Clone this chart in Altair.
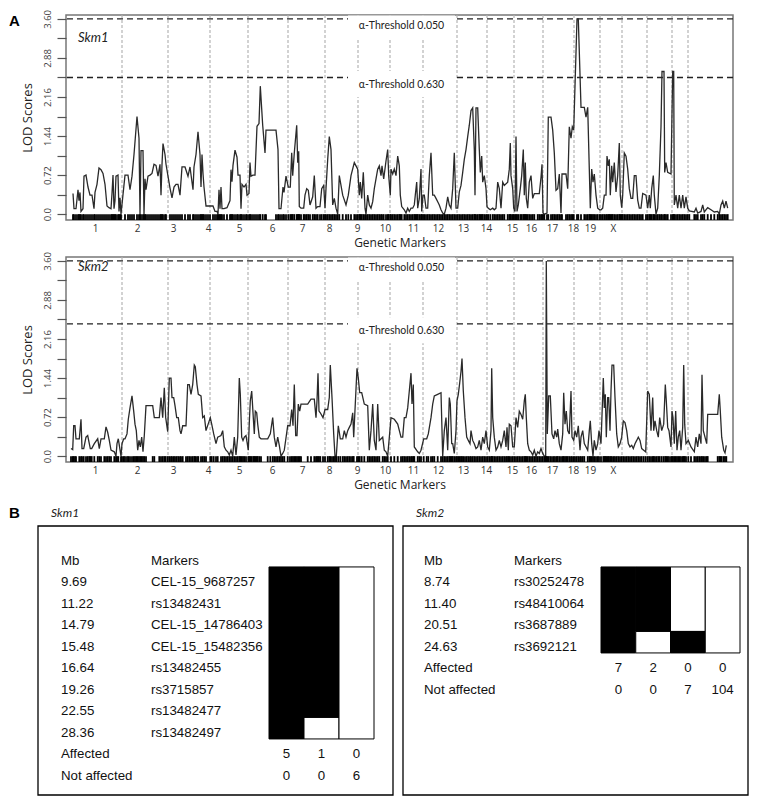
import altair as alt
import pandas as pd

# ---------------- Panel A data ----------------
chrom_labels = ['1', '2', '3', '4', '5', '6', '7', '8', '9', '10', '11', '12', '13',
                '14', '15', '16', '17', '18', '19', 'X']
chrom_label_pos = [29, 71, 107, 142, 173, 206, 236, 263, 291, 319, 347, 372, 397,
                   420, 446, 465, 486, 507, 524, 547]
boundary_pos = [56, 102, 144, 182, 222, 259, 292, 324, 357, 391, 421, 448, 477,
                508, 534, 556, 581, 606, 622]

threshold_names = ['\u03b1-Threshold 0.050', '\u03b1-Threshold 0.630']
skm1_thresholds = [3.60, 2.52]
skm2_thresholds = [3.60, 2.44]

skm1_pos = [
    7, 8, 10, 12, 13, 14, 15, 17, 18, 20, 22, 24, 26, 28, 29, 31, 33, 35, 37, 39, 41, 43, 45, 46, 47, 48, 49, 50, 52, 53, 54, 55,
    59, 62, 64, 66, 68, 71, 73, 74, 75, 77, 78, 79, 80, 82, 84, 86, 88, 90, 92, 94, 95, 96, 97, 99, 100,
    104, 106, 108, 110, 112, 114, 116, 119, 122, 124, 127, 128, 130, 132, 134, 135, 136, 137, 138, 140, 142, 144,
    147, 149, 151, 152, 153, 154, 155, 156, 158, 161, 164, 165, 166, 167, 169, 171, 172, 174, 175, 176, 178, 180, 181,
    183, 184, 185, 187, 189, 191, 193, 194.3, 196.7, 199, 200, 210, 212, 213, 215, 217, 218, 220,
    222.3, 224.3, 225.7, 226.7, 228.3, 230.7, 231.7, 232.7, 233.3, 235, 237.7, 239, 240.7, 242.3, 244, 246.7, 248.3, 250, 251.7, 254, 255.7, 257.7, 259,
    260, 261.7, 263.3, 265, 266.7, 268.3, 270, 271.7, 273.3, 276.7, 280, 282.3, 285, 288.3, 290, 291.7,
    293.3, 294.3, 295.7, 297.3, 299, 300, 301.7, 303.3, 305, 306.7, 308.3, 310, 311.7, 313.3, 315, 316, 317.7, 320, 321.7, 322.7, 324.3,
    325, 326.7, 328.3, 330, 331.7, 333.3, 334.3, 335.7, 338.3, 340, 341.7, 343.3, 345, 346.7, 348.3, 349.3, 350.7, 351.7, 353.3, 355, 355.7, 357,
    358.3, 360, 361.7, 363.3, 365, 366.7, 368.3, 370, 371.7, 373.3, 375, 376.7, 378.3, 380, 381.7, 383.3, 385, 386.7, 388.3, 390,
    391.7, 393.3, 395, 396.7, 398.3, 400, 401.7, 403.3, 405, 406.7, 408.3, 409, 410, 411.7, 413.3, 414.3, 415.7, 416.7, 418.3, 420, 421,
    422.3, 424.3, 426.7, 428.3, 430, 431.7, 433.3, 435, 436.7, 438.3, 441.7, 443.3, 444.3, 445, 446.7, 447.7,
    449, 450, 451, 452.3, 454.3, 455.7, 457.3, 458.3, 459.3, 460.3, 461.7, 463.3, 465, 466.7, 468.3, 471.7, 473.3, 475, 476, 477,
    478.3, 481, 482.3, 485, 486.7, 488.3, 490, 491.7, 493.3, 495, 496, 500, 501.7, 503.3, 505, 506.3, 507.7,
    511, 512.3, 515, 518.3, 520, 521.7, 523.3, 524.3, 525.7, 527, 528.3, 530, 531.7, 533.7,
    535, 536.7, 538.3, 540, 541, 542.3, 543.3, 544.3, 545.7, 546.7, 548.3, 550, 551.7, 553.3, 554.3, 555.7,
    556.7, 558.3, 560, 561.7, 563.3, 565, 566.7, 568.3, 570, 571.7, 573.3, 575, 576.7, 580,
    581.7, 583.3, 584.3, 585.7, 587.3, 588.3, 590, 591.7, 593.3, 595, 596, 598, 598.7, 600, 601.7, 605,
    606.7, 607.7, 608.3, 610, 611.7, 613.3, 615, 616.7, 618.3, 620, 621.7,
    623.3, 628.3, 630, 631.7, 635, 636.7, 638.3, 641.7, 645, 648.3, 651.7, 653.3, 655, 656.7, 658.3, 660, 661.7,
]
skm1_lod = [
    0.38, 0.10, 0.10, 0.45, 0.25, 0.40, 0.05, 0.10, 0.70, 0.72, 0.50, 0.35, 0.35, 0.10, 0.40, 0.55, 0.85, 0.82, 0.75, 0.55, 0.15, 0.12, 0.10, 0.38, 0.72, 0.10, 0.25, 0.70, 0.72, 0.05, 0.30, 0.00,
    0.72, 0.72, 0.45, 0.70, 1.10, 1.80, 1.40, 0.00, 1.17, 1.17, 0.00, 0.65, 0.45, 0.70, 0.72, 0.75, 0.92, 0.90, 0.70, 0.92, 0.35, 0.92, 1.30, 1.10, 0.92,
    0.48, 0.30, 0.50, 0.55, 0.55, 0.35, 0.87, 0.87, 0.70, 0.87, 0.45, 0.87, 1.10, 1.52, 1.10, 0.50, 1.10, 0.75, 0.50, 0.15, 0.15, 0.15,
    0.15, 0.05, 0.05, 0.00, 0.45, 0.10, 0.50, 0.10, 0.10, 0.12, 0.25, 0.82, 0.60, 0.90, 1.18, 1.05, 0.72, 0.72, 0.10, 0.55, 0.50, 0.55, 0.35,
    0.38, 0.95, 0.70, 0.72, 0.72, 1.62, 1.67, 2.36, 1.64, 1.13, 1.55, 1.55, 1.19, 0.10, 0.10, 0.50, 0.40, 0.70,
    0.50, 0.50, 1.13, 0.71, 1.13, 1.64, 0.95, 1.16, 0.14, 0.11, 0.11, 0.35, 0.47, 0.44, 0.17, 0.32, 0.71, 0.11, 0.14, 0.14, 0.47, 0.53, 0.11,
    0.47, 1.01, 1.43, 1.19, 0.17, 0.29, 0.11, 0.00, 0.71, 0.35, 0.17, 0.35, 0.71, 0.95, 0.89, 0.83,
    0.35, 0.59, 0.29, 0.77, 0.11, 0.00, 0.35, 0.17, 0.11, 0.23, 0.47, 0.65, 0.83, 0.89, 0.71, 0.89, 0.65, 0.98, 1.19, 0.71, 0.35,
    0.83, 0.74, 0.83, 0.71, 1.07, 0.89, 0.35, 0.14, 0.08, 0.02, 0.11, 0.05, 0.11, 0.11, 0.17, 0.35, 0.59, 0.11, 0.29, 0.83, 0.05, 0.35,
    0.35, 0.11, 0.11, 0.71, 1.13, 0.35, 0.35, 0.29, 0.23, 0.17, 0.08, 0.02, 0.00, 0.11, 0.32, 0.17, 0.11, 0.47, 1.13, 0.11,
    0.11, 0.41, 0.53, 0.77, 1.01, 1.19, 1.43, 1.64, 1.91, 1.96, 1.19, 0.35, 1.96, 1.96, 1.19, 0.77, 1.07, 0.59, 0.71, 0.47, 0.14,
    0.11, 0.08, 0.11, 0.08, 0.11, 0.59, 0.47, 0.11, 0.59, 0.53, 0.59, 0.83, 1.31, 0.71, 0.47, 0.11,
    0.05, 1.43, 0.05, 0.17, 0.47, 0.71, 1.19, 0.35, 0.95, 0.29, 0.11, 0.59, 0.71, 0.29, 0.38, 0.38, 0.38, 0.68, 0.92, 0.02,
    0.00, 0.02, 1.79, 1.79, 1.55, 1.13, 0.44, 0.47, 0.74, 0.02, 0.74, 0.74, 0.47, 1.61, 1.40, 1.61, 1.55,
    3.60, 3.60, 1.97, 1.97, 1.79, 1.97, 0.83, 0.11, 0.83, 0.59, 0.74, 0.35, 0.11, 0.08,
    0.08, 0.11, 0.35, 0.35, 1.07, 0.89, 1.01, 0.35, 0.89, 0.59, 0.95, 0.41, 0.71, 1.31, 0.35, 0.12,
    0.35, 1.13, 1.07, 0.83, 0.47, 0.29, 0.29, 0.71, 0.71, 0.26, 0.11, 0.11, 0.38, 0.35,
    0.11, 0.35, 0.11, 0.47, 0.71, 0.35, 0.00, 0.11, 0.71, 1.61, 2.63, 2.63, 0.77, 0.95, 0.77, 0.74,
    2.63, 2.63, 0.17, 0.35, 0.11, 0.35, 0.11, 0.35, 0.11, 0.32, 0.11,
    0.06, 0.04, 0.11, 0.02, 0.05, 0.17, 0.04, 0.12, 0.08, 0.04, 0.05, 0.00, 0.17, 0.24, 0.11, 0.24, 0.11,
]

skm2_pos = [
    5, 6.7, 7.7, 9, 10, 13.3, 15, 16, 17.7, 20, 21.7, 23.3, 24.3, 25.7, 28.3, 31.7, 33.3, 35, 38.3, 40, 41.7, 43.3, 45, 48.3, 50, 51, 52.3,
    55, 56, 57.7, 59, 61, 62.3, 64, 66, 67.7, 69, 70.3, 71.7, 73, 74.3, 75.7, 77, 78.3, 80, 86.7, 88.3, 93.3, 95, 96.7, 98.3, 99.7,
    101.7, 103.3, 105, 106, 107.7, 109, 110.7, 112.3, 114, 115, 116.7, 120, 121.7, 123.3, 125, 126.7, 128.3, 129.3, 131, 132.3, 135, 136.7, 138.3, 140,
    144.3, 145.7, 147.7, 150, 151.7, 155, 156.7, 158.3, 160, 161.7, 163.3, 165, 166.7, 168.3, 170, 171.7, 173.3, 174.3, 175.7, 177, 178.3, 180,
    182.3, 183.3, 184.3, 185.7, 187.3, 188.3, 189.3, 190.7, 191.7, 193.3, 195, 201.7, 204.3, 206.7, 208.3, 210, 211.7, 213.3, 215, 216.7, 218.3,
    221.7, 224, 225.7, 227, 228.3, 229.7, 231, 232.3, 233.7, 235, 241.7, 245, 248.3, 250, 251, 252, 253, 254.3, 257,
    259, 261.7, 263.3, 264.3, 266, 267.7, 269, 270.3, 272.3, 274.3, 276.7, 278.3, 280, 281.7, 283.3, 285, 286.7, 287.7,
    291, 292.3, 293.7, 295.7, 298.3, 301.7, 303.3, 305, 306.7, 308.3, 310, 311.7, 313.3, 316.7, 318.3, 320, 321.7,
    325, 328.3, 331.7, 335, 336.7, 338.3, 340, 341.7, 343.3, 345, 346, 347.3, 348.3, 351.7, 353.3, 355,
    357.7, 360.7, 362.3, 365, 366.7, 368.3, 371.7, 375, 376.7, 378.3, 380, 381.7, 383.3, 384.3, 385.7, 386.7, 388.3, 390,
    391, 392.3, 393.7, 395, 396, 397.3, 399, 400.7, 402.3, 404, 405, 406.7, 408.3, 410, 411.7, 413.3, 415, 416.7, 418.3, 420,
    421.7, 423.3, 425, 425.7, 426.7, 428.3, 430, 431.7, 433.3, 435, 436.7, 438.3, 440, 441, 442.3, 443.3, 445, 446.7,
    448.3, 450, 451.7, 453.3, 455, 456.7, 458.3, 459.3, 460.3, 461.7, 463.3, 465, 466.7, 468.3, 470, 471.7, 473.3, 475, 476.7, 478.3, 479.7,
    480.3, 481.3, 482.7, 484.3, 486, 487.7, 489, 490.7, 491.7, 493.3, 495, 496.7, 497.7, 499, 500.3, 501.7, 503.3, 505, 506,
    507.7, 509, 510.7, 512.3, 514, 515, 516.7, 518.3, 521.7, 523.3, 524.3, 525.7, 527, 528.3, 530, 531.7, 533,
    535, 537.3, 538.3, 539.3, 540.3, 541.7, 542.7, 544, 545, 546, 547.7, 549, 550.7, 552.3, 554,
    555.7, 557.3, 559, 560.7, 562.3, 564, 565.7, 567.3, 569, 570.7, 572.3, 574, 575.7, 577.7, 579.7,
    581.7, 583.3, 585, 586.7, 587.7, 589, 590.7, 592.3, 593.7, 595.7, 597.7, 599.3, 600.3, 601.7, 603,
    605, 606, 607, 608.3, 609.7, 611, 612.3, 613.7, 615, 616.7, 617.7, 618.7, 620,
    622.3, 625, 628.3, 630, 631.7, 633.3, 635, 636, 637.3, 639, 640.7, 641.7, 651.7, 653.3, 654.3, 655.7, 657.7, 659, 660.3,
]
skm2_lod = [
    0.14, 0.12, 0.56, 0.56, 0.32, 0.32, 0.68, 0.14, 0.14, 0.35, 0.38, 0.23, 0.14, 0.14, 0.23, 0.32, 0.14, 0.32, 0.32, 0.54, 0.44, 0.29, 0.11, 0.08, 0.00, 0.23, 0.32,
    0.00, 0.23, 0.32, 0.32, 0.41, 0.68, 0.89, 1.11, 0.83, 0.59, 0.47, 0.11, 0.29, 0.17, 0.35, 0.08, 0.38, 0.93, 0.93, 0.71, 0.71, 1.08, 0.71, 1.26, 0.71,
    0.45, 1.44, 1.44, 1.08, 1.08, 0.93, 0.71, 0.71, 0.47, 0.41, 0.56, 0.56, 1.32, 1.32, 1.14, 1.32, 1.68, 1.65, 1.32, 1.14, 1.11, 0.71, 0.74, 0.47,
    0.71, 0.59, 0.41, 0.23, 0.35, 0.38, 0.47, 0.17, 0.11, 0.08, 0.02, 0.11, 0.00, 0.35, 0.02, 0.35, 1.44, 1.14, 0.35, 0.29, 0.35, 0.38,
    0.11, 0.62, 1.02, 1.20, 0.71, 0.41, 0.83, 0.80, 0.59, 0.35, 0.32, 0.32, 0.41, 0.71, 0.35, 0.17, 0.35, 0.20, 0.00, 0.05, 0.11,
    0.56, 0.56, 0.86, 0.56, 1.32, 0.38, 0.38, 0.96, 0.83, 0.96, 0.96, 1.05, 1.05, 0.71, 1.02, 1.53, 0.83, 0.80, 0.71,
    0.86, 0.86, 1.08, 1.68, 1.08, 0.41, 0.00, 0.00, 0.56, 0.32, 0.32, 0.47, 0.35, 0.47, 0.53, 0.59, 0.80, 0.35,
    1.62, 1.44, 1.17, 1.17, 0.96, 0.93, 0.11, 0.47, 0.96, 0.29, 0.11, 0.96, 0.29, 0.35, 0.11, 0.08, 0.00,
    0.71, 0.68, 0.59, 0.35, 0.35, 0.71, 0.71, 0.89, 1.20, 1.53, 0.96, 1.32, 0.17, 0.08, 0.05, 0.11,
    0.32, 0.32, 0.41, 0.71, 0.96, 1.11, 1.14, 1.17, 0.00, 0.47, 0.71, 0.11, 1.08, 0.96, 0.23, 0.23, 0.05, 0.47,
    1.02, 1.14, 1.35, 1.56, 1.80, 1.20, 0.71, 0.35, 0.29, 0.23, 0.47, 0.29, 0.23, 0.14, 0.17, 0.29, 0.11, 0.35, 0.23, 0.47,
    0.17, 0.11, 0.47, 1.62, 0.71, 0.35, 0.11, 0.17, 0.29, 0.17, 0.29, 0.47, 0.17, 0.53, 0.11, 0.59, 0.56, 0.17,
    0.17, 0.71, 0.53, 0.83, 0.77, 0.68, 1.02, 1.14, 0.71, 0.23, 0.11, 0.08, 0.02, 0.11, 0.00, 0.08, 0.05, 0.14, 0.05, 0.00, 0.00,
    3.60, 0.41, 1.11, 1.11, 0.41, 0.32, 0.47, 0.35, 0.50, 0.23, 0.11, 0.41, 1.17, 0.59, 0.83, 0.47, 0.41, 1.20, 0.35,
    0.29, 0.47, 0.35, 0.56, 0.11, 0.35, 0.47, 0.23, 0.11, 0.47, 0.65, 0.23, 0.00, 0.29, 0.11, 0.23, 0.47,
    0.23, 1.44, 0.89, 1.14, 0.35, 1.08, 1.08, 0.47, 1.20, 1.68, 1.68, 1.08, 0.41, 0.17, 0.23,
    0.35, 0.65, 0.62, 0.47, 0.23, 0.17, 0.20, 0.14, 0.23, 0.29, 0.35, 0.29, 0.14, 0.11, 0.08,
    1.20, 1.14, 0.47, 1.08, 0.47, 0.65, 0.47, 0.35, 0.71, 0.47, 0.59, 1.32, 1.02, 0.53, 0.47,
    0.17, 0.83, 0.71, 0.23, 0.83, 0.11, 0.35, 0.47, 0.11, 0.53, 1.68, 0.59, 0.23,
    0.29, 0.17, 0.08, 0.35, 0.17, 0.41, 0.23, 1.50, 0.47, 0.35, 0.23, 0.77, 0.77, 1.14, 0.83, 0.35, 0.11, 0.06, 0.20,
]
assert len(skm1_pos) == len(skm1_lod)
assert len(skm2_pos) == len(skm2_lod)

# ---------------- Panel B data ----------------
skm1_mb = [9.69, 11.22, 14.79, 15.48, 16.64, 19.26, 22.55, 28.36]
skm1_markers = ['CEL-15_9687257', 'rs13482431', 'CEL-15_14786403', 'CEL-15_15482356',
                'rs13482455', 'rs3715857', 'rs13482477', 'rs13482497']
skm1_haplotypes = [[1, 1, 1, 1, 1, 1, 1, 1], [1, 1, 1, 1, 1, 1, 1, 0], [0, 0, 0, 0, 0, 0, 0, 0]]
skm1_affected = [5, 1, 0]
skm1_not_affected = [0, 0, 6]

skm2_mb = [8.74, 11.40, 20.51, 24.63]
skm2_markers = ['rs30252478', 'rs48410064', 'rs3687889', 'rs3692121']
skm2_haplotypes = [[1, 1, 1, 1], [1, 1, 1, 0], [0, 0, 0, 1], [0, 0, 0, 0]]
skm2_affected = [7, 2, 0, 0]
skm2_not_affected = [0, 0, 7, 104]

# ---------------- layout constants ----------------
PW, PH = 667, 205
X_DOMAIN = [0, 667]
Y_DOMAIN = [-0.108, 3.672]
LABEL_BOX = (282, 389)
AX_FONT = 'Open Sans'
TAB_FONT = 'Liberation Sans'
TAB_H = 297
BOX_TOP, ROW0, ROW_H = 27, 83, 21.5
TABLE_LAYOUT = [
    dict(left=-28, width=355, mb_x=23, mk_x=113, block_x=231, col_w=35.0),
    dict(left=337, width=345, mb_x=21, mk_x=111, block_x=198, col_w=34.75),
]

x_label_expr = ' : '.join(f"datum.value == {p} ? '{l}'" for p, l in zip(chrom_label_pos, chrom_labels)) + " : ''"
y_tick_values = [round(0.36 * k, 2) for k in range(11)]
y_label_expr = ("(round(datum.value / 0.36) % 2 == 1) ? '' : "
                "(datum.value == 0 ? '0.0' : format(datum.value, '.2f'))")


def lod_panel(pos, lod, thresholds, name, name_y, letter):
    xs = alt.Scale(domain=X_DOMAIN, nice=False, zero=False)
    ys = alt.Scale(domain=Y_DOMAIN, nice=False, zero=False)
    xaxis = alt.Axis(values=chrom_label_pos, labelExpr=x_label_expr, domain=False, ticks=False,
                     grid=False, title='Genetic Markers', labelFont=AX_FONT, labelFontSize=10,
                     labelColor='#333', labelPadding=3, labelOverlap=False, labelFlush=False,
                     titleFont=AX_FONT, titleFontSize=12, titleFontWeight='normal',
                     titleColor='#222', titlePadding=4)
    yaxis = alt.Axis(values=y_tick_values, labelExpr=y_label_expr, domain=False, grid=False,
                     tickSize=9, tickColor='#555', tickWidth=1.2, labelAngle=270, labelAlign='center',
                     labelBaseline='bottom', labelFont=AX_FONT, labelFontSize=9.5,
                     labelColor='#444', labelPadding=5, labelOverlap=False, labelFlush=False,
                     title='LOD Scores', titleFont=AX_FONT, titleFontSize=13,
                     titleFontWeight='normal', titleColor='#222', titlePadding=8)

    def X(f):
        return alt.X(f, type='quantitative', scale=xs, axis=xaxis)

    def Y(f):
        return alt.Y(f, type='quantitative', scale=ys, axis=yaxis)

    line_df = pd.DataFrame({'pos': pos, 'lod': lod})
    rug_df = pd.DataFrame({'pos': pos, 'lo': Y_DOMAIN[0], 'hi': 0.0})
    bnd_df = pd.DataFrame({'b': boundary_pos})
    thr_df = pd.DataFrame({'thr': thresholds, 'name': threshold_names})
    thr_df['box_lo'] = thr_df['thr'] - 0.36
    thr_df['box_hi'] = (thr_df['thr'] + 0.12).clip(upper=Y_DOMAIN[1] - 0.01)
    thr_df['text_y'] = thr_df['thr'] - 0.14
    thr_df['x0'] = LABEL_BOX[0]
    thr_df['x1'] = LABEL_BOX[1]
    thr_df['xc'] = (LABEL_BOX[0] + LABEL_BOX[1]) / 2
    name_df = pd.DataFrame({'x': [12], 'y': [name_y], 't': [name]})

    layers = [
        alt.Chart(bnd_df).mark_rule(color='#b5b5b5', strokeDash=[3, 2], strokeWidth=1.2).encode(x=X('b')),
        alt.Chart(thr_df).mark_rule(color='#222', strokeDash=[6, 4], strokeWidth=1.3).encode(y=Y('thr')),
        alt.Chart(thr_df).mark_rect(fill='white').encode(x=X('x0'), x2='x1', y=Y('box_lo'), y2='box_hi'),
        alt.Chart(thr_df).mark_text(font='Lato', fontSize=10.5, color='#222', align='center',
                                    baseline='middle').encode(x=X('xc'), y=Y('text_y'), text='name:N'),
        alt.Chart(line_df).mark_line(color='#2a2a2a', strokeWidth=1.3).encode(x=X('pos'), y=Y('lod')),
        alt.Chart(rug_df).mark_rule(color='black', strokeWidth=1.8).encode(x=X('pos'), y=Y('lo'), y2='hi'),
        alt.Chart(name_df).mark_text(font='Lato', fontStyle='italic', fontSize=13, color='#222',
                                     align='left', baseline='middle').encode(x=X('x'), y=Y('y'), text='t:N'),
    ]
    if letter:
        letter_df = pd.DataFrame({'x': [-57], 'y': [3.56], 't': [letter]})
        layers.append(alt.Chart(letter_df).mark_text(
            font=TAB_FONT, fontWeight='bold', fontSize=15, color='black', align='left',
            baseline='middle').encode(x=X('x'), y=Y('y'), text='t:N'))
    return alt.layer(*layers).properties(
        width=PW, height=PH, view=alt.ViewBackground(stroke='#777', strokeWidth=1.5))


def tables_chart():
    tables = [
        ('Skm1', skm1_mb, skm1_markers, skm1_haplotypes, skm1_affected, skm1_not_affected),
        ('Skm2', skm2_mb, skm2_markers, skm2_haplotypes, skm2_affected, skm2_not_affected),
    ]
    xs = alt.Scale(domain=X_DOMAIN, nice=False, zero=False)
    ys = alt.Scale(domain=[-ROW0 / ROW_H, (TAB_H - ROW0) / ROW_H], nice=False, zero=False, reverse=True)
    r_box0 = (BOX_TOP - ROW0) / ROW_H
    r_box1 = (TAB_H - 1 - ROW0) / ROW_H
    r_title = (14 - ROW0) / ROW_H

    frames, blocks, texts, counts = [], [], [], []
    for (title, mb, markers, haps, aff, naff), lay in zip(tables, TABLE_LAYOUT):
        L = lay['left']
        n = len(mb)
        frames.append({'x0': L, 'x1': L + lay['width'], 'r0': r_box0, 'r1': r_box1})
        texts.append({'x': L + 13, 'r': r_title, 't': title, 'style': 'title'})
        texts.append({'x': L + lay['mb_x'], 'r': -1, 't': 'Mb', 'style': 'body'})
        texts.append({'x': L + lay['mk_x'], 'r': -1, 't': 'Markers', 'style': 'body'})
        for i in range(n):
            texts.append({'x': L + lay['mb_x'], 'r': i, 't': f'{mb[i]:.2f}', 'style': 'body'})
            texts.append({'x': L + lay['mk_x'], 'r': i, 't': markers[i], 'style': 'body'})
        texts.append({'x': L + lay['mb_x'], 'r': n, 't': 'Affected', 'style': 'body'})
        texts.append({'x': L + lay['mb_x'], 'r': n + 1, 't': 'Not affected', 'style': 'body'})
        bx = L + lay['block_x']
        cw = lay['col_w']
        for c, col in enumerate(haps):
            start = 0
            for i in range(1, len(col) + 1):
                if i == len(col) or col[i] != col[start]:
                    blocks.append({'x0': bx + c * cw, 'x1': bx + (c + 1) * cw,
                                   'r0': start - 0.7, 'r1': i - 0.7,
                                   'fill': 'black' if col[start] else 'white'})
                    start = i
            counts.append({'x': bx + (c + 0.5) * cw, 'r': n, 'cnt': str(aff[c])})
            counts.append({'x': bx + (c + 0.5) * cw, 'r': n + 1, 'cnt': str(naff[c])})
    texts_df = pd.DataFrame(texts)

    def X(f):
        return alt.X(f, type='quantitative', scale=xs, axis=None)

    def Y(f):
        return alt.Y(f, type='quantitative', scale=ys, axis=None)

    body = dict(font=TAB_FONT, fontSize=13.3, color='#111', baseline='middle')
    layers = [
        alt.Chart(pd.DataFrame(frames)).mark_rect(fillOpacity=0, stroke='black', strokeWidth=1.3).encode(
            x=X('x0'), x2='x1', y=Y('r0'), y2='r1'),
        alt.Chart(pd.DataFrame(blocks)).mark_rect(stroke='black', strokeWidth=1).encode(
            x=X('x0'), x2='x1', y=Y('r0'), y2='r1', fill=alt.Fill('fill:N', scale=None)),
        alt.Chart(texts_df[texts_df['style'] == 'body']).mark_text(align='left', **body).encode(
            x=X('x'), y=Y('r'), text='t:N'),
        alt.Chart(pd.DataFrame(counts)).mark_text(align='center', **body).encode(
            x=X('x'), y=Y('r'), text='cnt:N'),
        alt.Chart(texts_df[texts_df['style'] == 'title']).mark_text(
            font='Lato', fontStyle='italic', fontSize=12, color='#222', align='left',
            baseline='middle').encode(x=X('x'), y=Y('r'), text='t:N'),
        alt.Chart(pd.DataFrame({'x': [-57], 'r': [r_title], 't': ['B']})).mark_text(
            font=TAB_FONT, fontWeight='bold', fontSize=15, color='black', align='left',
            baseline='middle').encode(x=X('x'), y=Y('r'), text='t:N'),
    ]
    return alt.layer(*layers).properties(width=PW, height=TAB_H)


top = lod_panel(skm1_pos, skm1_lod, skm1_thresholds, 'Skm1', 3.24, 'A')
bottom = lod_panel(skm2_pos, skm2_lod, skm2_thresholds, 'Skm2', 3.48, None)
tabs = tables_chart()

chart = alt.concat(top, bottom, tabs, columns=1, spacing=37, bounds='flush').properties(
    padding=0).configure_view(stroke=None)

chart.save("out.html", embed_options={"renderer": "svg", "actions": False})
